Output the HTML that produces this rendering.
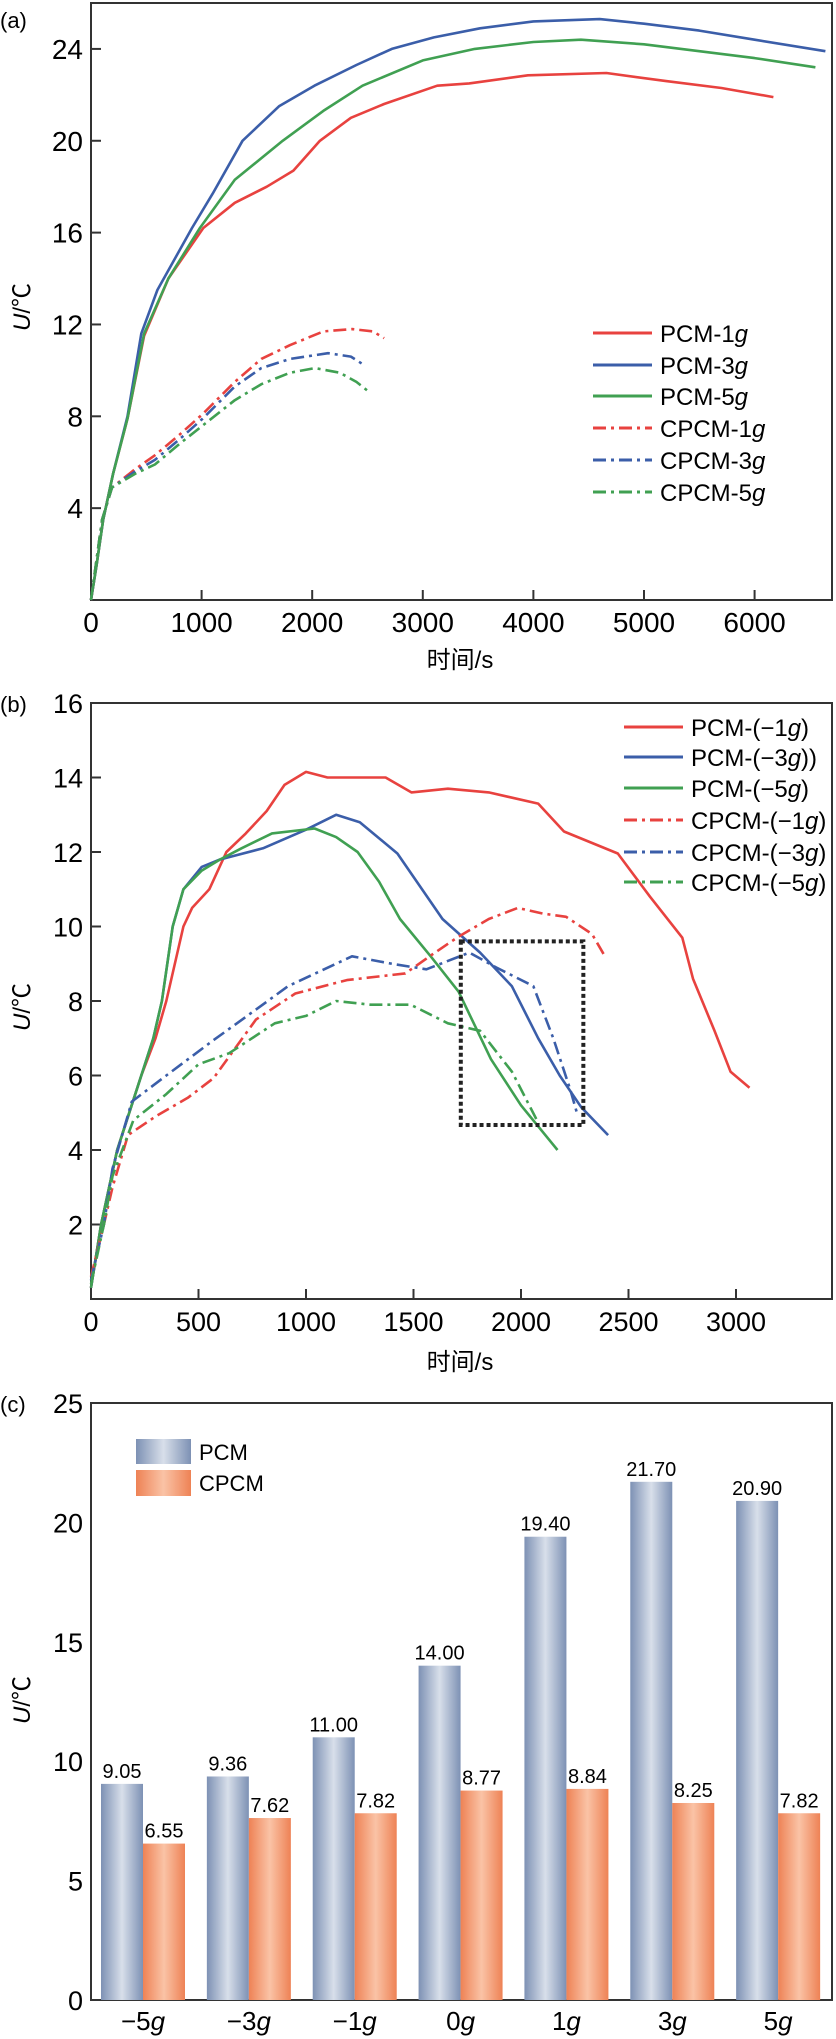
<!DOCTYPE html>
<html><head><meta charset="utf-8"><style>
html,body{margin:0;padding:0;background:#fff;}
svg{display:block;font-family:"Liberation Sans","Noto Sans CJK SC",sans-serif;}
</style></head><body>
<svg id="fig" width="836" height="2039" viewBox="0 0 836 2039" xmlns="http://www.w3.org/2000/svg">
<defs>
<linearGradient id="gPCM" x1="0" x2="1" y1="0" y2="0">
<stop offset="0" stop-color="#7d91b4"/><stop offset="0.5" stop-color="#d8dfea"/><stop offset="1" stop-color="#7d91b4"/></linearGradient>
<linearGradient id="gCPCM" x1="0" x2="1" y1="0" y2="0">
<stop offset="0" stop-color="#ee8255"/><stop offset="0.5" stop-color="#fac3a6"/><stop offset="1" stop-color="#ee8255"/></linearGradient>
</defs>
</svg>
<script>
// ---------- Panel (a) data ----------
const aPCM1t=[0,50,110,200,330,480,700,1015,1300,1590,1830,2070,2350,2650,3130,3420,3950,4660,5200,5700,6170];
const aPCM1u=[0,1.5,3.5,5.5,7.9,11.5,14,16.2,17.3,18,18.7,20,21,21.6,22.4,22.5,22.85,22.95,22.6,22.3,21.9];
const aPCM3t=[0,50,110,200,330,455,600,913,1100,1370,1700,2020,2400,2720,3100,3517,4000,4600,5000,5500,6000,6640];
const aPCM3u=[0,1.5,3.5,5.5,8,11.6,13.5,16.2,17.7,20,21.5,22.4,23.3,24,24.5,24.9,25.2,25.3,25.1,24.8,24.4,23.9];
const aPCM5t=[0,50,110,200,330,480,700,985,1300,1733,2100,2455,3000,3470,4000,4430,5000,5500,6000,6550];
const aPCM5u=[0,1.5,3.5,5.5,7.9,11.6,14,16.2,18.3,20,21.3,22.4,23.5,24,24.3,24.4,24.2,23.9,23.6,23.2];
const aCPCM1t=[0,100,190,400,578,800,1010,1300,1540,1800,2100,2360,2550,2650];
const aCPCM1u=[0,3.5,4.9,5.7,6.3,7.2,8.1,9.5,10.5,11.1,11.7,11.8,11.7,11.4];
const aCPCM3t=[0,100,190,400,578,800,1010,1300,1540,1800,2143,2350,2480];
const aCPCM3u=[0,3.5,4.9,5.6,6.1,7.0,7.9,9.3,10.1,10.5,10.75,10.6,10.2];
const aCPCM5t=[0,100,190,400,578,800,1010,1300,1540,1800,2025,2250,2400,2530];
const aCPCM5u=[0,3.5,4.9,5.5,5.9,6.8,7.6,8.7,9.4,9.9,10.1,9.9,9.5,9.0];
const aXTicks=[0,1000,2000,3000,4000,5000,6000];
const aYTicks=[4,8,12,16,20,24];
const aLegend=["PCM-1","PCM-3","PCM-5","CPCM-1","CPCM-3","CPCM-5"];
// ---------- Panel (b) data ----------
const bPCM1t=[0,47,122,234,300,350,430,470,550,630,720,817,900,1000,1100,1370,1490,1660,1850,2080,2200,2450,2600,2750,2800,2900,2975,3063];
const bPCM1u=[0.3,2,4,6,7,8,10,10.5,11,12,12.5,13.1,13.8,14.15,14,14,13.6,13.7,13.6,13.3,12.55,11.96,10.8,9.7,8.6,7.2,6.1,5.67];
const bPCM3t=[0,47,122,234,290,330,380,430,515,600,800,1000,1140,1250,1425,1635,1810,1957,2080,2180,2280,2405];
const bPCM3u=[0.3,2,4,6,7,8,10,11,11.6,11.8,12.1,12.6,13,12.8,11.96,10.2,9.3,8.4,7,6,5.15,4.4];
const bPCM5t=[0,47,122,234,290,330,380,430,515,600,700,842,1040,1140,1240,1340,1437,1580,1710,1860,2000,2170];
const bPCM5u=[0.3,2,4,6,7,8,10,11,11.5,11.8,12.1,12.5,12.63,12.4,12,11.2,10.2,9.2,8.25,6.44,5.2,4.0];
const bCPCM1t=[0,60,100,172,300,450,570,767,950,1190,1462,1600,1710,1850,1985,2100,2210,2330,2390];
const bCPCM1u=[0.6,2,3,4.4,4.9,5.4,5.93,7.5,8.2,8.56,8.74,9.3,9.73,10.2,10.5,10.35,10.26,9.8,9.2];
const bCPCM3t=[0,60,100,190,350,570,750,917,1214,1400,1560,1760,1885,2057,2150,2230,2260];
const bCPCM3u=[0.5,2,3.5,5.3,6,6.95,7.7,8.4,9.2,9.0,8.85,9.3,8.9,8.4,7,5.6,5.0];
const bCPCM5t=[0,60,100,197,350,500,643,855,1000,1140,1300,1487,1660,1810,1958,2083];
const bCPCM5u=[0.4,2,3.3,4.8,5.5,6.3,6.6,7.4,7.6,8,7.9,7.9,7.4,7.2,6.1,4.7];
const bXTicks=[0,500,1000,1500,2000,2500,3000];
const bYTicks=[2,4,6,8,10,12,14,16];
const bBox=[1720,2290,4.67,9.6];
const bLegend=["PCM-(−1","PCM-(−3","PCM-(−5","CPCM-(−1","CPCM-(−3","CPCM-(−5"];
const bLegendEnd=[")","))",")",")",")",")"];
// ---------- Panel (c) data ----------
const cCategories=["−5","−3","−1","0","1","3","5"];
const cPCM=[9.05,9.36,11.00,14.00,19.40,21.70,20.90];
const cCPCM=[6.55,7.62,7.82,8.77,8.84,8.25,7.82];
const cYTicks=[0,5,10,15,20,25];

const NS="http://www.w3.org/2000/svg";
const svg=document.getElementById('fig');
function mk(tag,attrs,parent,txt){const e=document.createElementNS(NS,tag);for(const k in attrs)e.setAttribute(k,attrs[k]);if(txt!==undefined)e.textContent=txt;(parent||svg).appendChild(e);return e;}
const RED="#e8423f",BLUE="#3b5ea9",GREEN="#40a052",DASH="13,5,3,5";

function frame(L,T,R,B,name){
  const r=mk('rect',{x:L,y:T,width:R-L,height:B-T,fill:'none',stroke:'#333',"stroke-width":2});
  
  
}
function panelLabel(txt,y,name){
  const t=mk('text',{x:0,y:y,"font-size":22,fill:'#000'},svg,txt);
  
  
}
function yTitle(x,y,name){
  const t=mk('text',{x:x,y:y,"font-size":24,"text-anchor":'middle',transform:`rotate(-90 ${x} ${y})`,fill:'#000'});
  const s1=mk('tspan',{"font-style":'italic'},t,'U');
  mk('tspan',{},t,'/℃');
  
  
}
function xTitle(x,y,name){
  const t=mk('text',{x:x,y:y,"font-size":24,"text-anchor":'middle',fill:'#000'},svg,'时间/s');
  
  
}
function series(ts,us,sx,sy,color,dash,name){
  let d='';for(let i=0;i<ts.length;i++)d+=(i?'L':'M')+sx(ts[i]).toFixed(1)+','+sy(us[i]).toFixed(1);
  const p=mk('path',{d:d,fill:'none',stroke:color,"stroke-width":2.6,"stroke-linejoin":'round'});
  if(dash)p.setAttribute('stroke-dasharray',dash);
  
  
}
function legendRow(x1,x2,y,color,dash,label,suffix,name){
  const g=mk('g',{});
  
  
  const l=mk('line',{x1:x1,x2:x2,y1:y,y2:y,stroke:color,"stroke-width":3},g);
  if(dash)l.setAttribute('stroke-dasharray',DASH);
  const t=mk('text',{x:x2+8,y:y+9,"font-size":24,fill:'#000'},g);
  mk('tspan',{},t,label);mk('tspan',{"font-style":'italic'},t,'g');
  if(suffix)mk('tspan',{},t,suffix);
}

// ===== Panel (a) =====
{
const L=91,R=832,T=3,B=600;
const sx=t=>L+t*(R-L)/6700, sy=u=>B-u*(B-T)/26;
frame(L,T,R,B,'plot-a-frame');
panelLabel('(a)',28,'panel-a-label');
aXTicks.forEach(v=>{
  const tk=mk('line',{x1:sx(v),x2:sx(v),y1:B,y2:B-10,stroke:'#333',"stroke-width":2});
  
  
  const t=mk('text',{x:sx(v),y:632,"font-size":28,"text-anchor":'middle'},svg,String(v));
  
  
});
aYTicks.forEach(v=>{
  const tk=mk('line',{x1:L,x2:L+10,y1:sy(v),y2:sy(v),stroke:'#333',"stroke-width":2});
  
  
  const t=mk('text',{x:L-8,y:sy(v)+10,"font-size":28,"text-anchor":'end'},svg,String(v));
  
  
});
xTitle(460,668,'x-axis-title-a');
yTitle(30,307,'y-axis-title-a');
series(aPCM1t,aPCM1u,sx,sy,RED,null,'line-pcm-1g');
series(aPCM3t,aPCM3u,sx,sy,BLUE,null,'line-pcm-3g');
series(aPCM5t,aPCM5u,sx,sy,GREEN,null,'line-pcm-5g');
series(aCPCM1t,aCPCM1u,sx,sy,RED,DASH,'line-cpcm-1g');
series(aCPCM3t,aCPCM3u,sx,sy,BLUE,DASH,'line-cpcm-3g');
series(aCPCM5t,aCPCM5u,sx,sy,GREEN,DASH,'line-cpcm-5g');
const cols=[RED,BLUE,GREEN,RED,BLUE,GREEN];
const ys=[333,365,396,428,460,492];
aLegend.forEach((s,i)=>legendRow(593,652,ys[i],cols[i],i>2,s,'','legend-entry-a'));
}

// ===== Panel (b) =====
{
const L=91,R=832,T=703,B=1299;
const sx=t=>L+t*0.215, sy=u=>B-u*(B-T)/16;
frame(L,T,R,B,'plot-b-frame');
panelLabel('(b)',712,'panel-b-label');
bXTicks.forEach(v=>{
  const tk=mk('line',{x1:sx(v),x2:sx(v),y1:B,y2:B-10,stroke:'#333',"stroke-width":2});
  
  
  const t=mk('text',{x:sx(v),y:1331,"font-size":27,"text-anchor":'middle'},svg,String(v));
  
  
});
bYTicks.forEach(v=>{
  if(v<16){const tk=mk('line',{x1:L,x2:L+10,y1:sy(v),y2:sy(v),stroke:'#333',"stroke-width":2});
  
  }
  const t=mk('text',{x:L-8,y:sy(v)+10,"font-size":27,"text-anchor":'end'},svg,String(v));
  
  
});
xTitle(460,1370,'x-axis-title-b');
yTitle(30,1007,'y-axis-title-b');
series(bPCM1t,bPCM1u,sx,sy,RED,null,'line-pcm-neg1g');
series(bPCM3t,bPCM3u,sx,sy,BLUE,null,'line-pcm-neg3g');
series(bPCM5t,bPCM5u,sx,sy,GREEN,null,'line-pcm-neg5g');
series(bCPCM1t,bCPCM1u,sx,sy,RED,DASH,'line-cpcm-neg1g');
series(bCPCM3t,bCPCM3u,sx,sy,BLUE,DASH,'line-cpcm-neg3g');
series(bCPCM5t,bCPCM5u,sx,sy,GREEN,DASH,'line-cpcm-neg5g');
const box=mk('rect',{x:sx(bBox[0]),y:sy(bBox[3]),width:sx(bBox[1])-sx(bBox[0]),height:sy(bBox[2])-sy(bBox[3]),fill:'none',stroke:'#222',"stroke-width":4,"stroke-dasharray":'4,3'});


const cols=[RED,BLUE,GREEN,RED,BLUE,GREEN];
const ys=[727,757,788,820,852,882];
bLegend.forEach((s,i)=>legendRow(624,683,ys[i],cols[i],i>2,s,bLegendEnd[i],'legend-entry-b'));
}

// ===== Panel (c) =====
{
const L=91,R=832,T=1403,B=2000;
const sy=u=>B-u*(B-T)/25;
const gw=(R-L)/cCategories.length, bw=42;
frame(L,T,R,B,'plot-c-frame');
panelLabel('(c)',1412,'panel-c-label');
cYTicks.forEach(v=>{
  const t=mk('text',{x:L-8,y:sy(v)+10,"font-size":27,"text-anchor":'end'},svg,String(v));
  
  
});
yTitle(30,1700,'y-axis-title-c');
cCategories.forEach((c,i)=>{
  const x0=L+10+i*gw;
  const b1=mk('rect',{x:x0,y:sy(cPCM[i]),width:bw,height:B-sy(cPCM[i]),fill:'url(#gPCM)'});
  
  
  const b2=mk('rect',{x:x0+bw,y:sy(cCPCM[i]),width:bw,height:B-sy(cCPCM[i]),fill:'url(#gCPCM)'});
  
  
  const t1=mk('text',{x:x0+bw/2,y:sy(cPCM[i])-6,"font-size":20,"text-anchor":'middle'},svg,cPCM[i].toFixed(2));
  
  
  const t2=mk('text',{x:x0+bw*1.5,y:sy(cCPCM[i])-6,"font-size":20,"text-anchor":'middle'},svg,cCPCM[i].toFixed(2));
  
  
  const xl=mk('text',{x:x0+bw,y:2030,"font-size":26,"text-anchor":'middle'});
  mk('tspan',{},xl,c);mk('tspan',{"font-style":'italic'},xl,'g');
  
  
});
const lg=mk('g',{});


mk('rect',{x:136,y:1439,width:55,height:25,fill:'url(#gPCM)'},lg);
mk('rect',{x:136,y:1470,width:55,height:26,fill:'url(#gCPCM)'},lg);
mk('text',{x:199,y:1460,"font-size":22},lg,'PCM');
mk('text',{x:199,y:1491,"font-size":22},lg,'CPCM');
}
</script>
</body></html>
